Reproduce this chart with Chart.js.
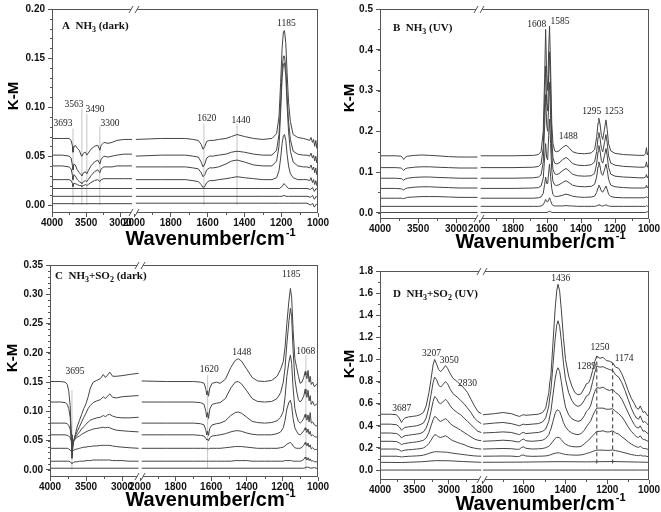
<!DOCTYPE html>
<html>
<head>
<meta charset="utf-8">
<script src="https://cdn.jsdelivr.net/npm/chart.js@4.4.1/dist/chart.umd.min.js"></script>
<style>
  html, body { margin: 0; padding: 0; background: #fff; }
  #wrap { position: relative; width: 661px; height: 512px; overflow: hidden; }
  canvas { position: absolute; }
</style>
</head>
<body>
<div id="wrap">
  <canvas id="cA" width="330" height="250" style="left:0;top:0"></canvas>
  <canvas id="cB" width="331" height="250" style="left:330px;top:0"></canvas>
  <canvas id="cC" width="330" height="262" style="left:0;top:250px"></canvas>
  <canvas id="cD" width="331" height="262" style="left:330px;top:250px"></canvas>
</div>
<script>
// ---------- A: NH3 (dark) ----------
const aLeftX = [4000, 3850, 3750, 3720, 3700, 3693, 3680, 3660, 3630, 3600, 3575, 3563, 3540, 3510, 3490, 3470, 3430, 3380, 3330, 3300, 3280, 3240, 3180, 3120, 3050, 2950, 2830];
const aLeft1 = [0.068, 0.068, 0.068, 0.066, 0.060, 0.054, 0.059, 0.061, 0.058, 0.056, 0.051, 0.050, 0.053, 0.054, 0.051, 0.053, 0.057, 0.060, 0.061, 0.056, 0.061, 0.064, 0.063, 0.064, 0.066, 0.067, 0.067];
const aLeft2 = [0.051, 0.051, 0.050, 0.048, 0.040, 0.036, 0.042, 0.041, 0.036, 0.033, 0.031, 0.030, 0.033, 0.034, 0.032, 0.035, 0.040, 0.044, 0.046, 0.042, 0.047, 0.050, 0.049, 0.050, 0.051, 0.052, 0.052];
const aLeft3 = [0.040, 0.040, 0.039, 0.037, 0.030, 0.026, 0.031, 0.030, 0.026, 0.024, 0.023, 0.022, 0.024, 0.025, 0.024, 0.026, 0.030, 0.034, 0.036, 0.033, 0.037, 0.039, 0.039, 0.039, 0.040, 0.040, 0.040];
const aLeft4 = [0.026, 0.026, 0.026, 0.025, 0.022, 0.019, 0.022, 0.022, 0.021, 0.020, 0.020, 0.019, 0.020, 0.021, 0.020, 0.021, 0.023, 0.025, 0.026, 0.024, 0.026, 0.027, 0.027, 0.027, 0.027, 0.027, 0.027];
const aFlatLeftX = [4000, 2830];
const aLeft5 = [0.017, 0.017];
const aLeft6 = [0.009, 0.009];
const aLeft7 = [0.0015, 0.0015];

const aRightX = [1990, 1850, 1720, 1680, 1650, 1635, 1625, 1615, 1605, 1590, 1570, 1540, 1500, 1470, 1440, 1400, 1350, 1300, 1250, 1225, 1212, 1203, 1195, 1188, 1182, 1175, 1168, 1160, 1150, 1135, 1110, 1080, 1060, 1045, 1038, 1030, 1024, 1018, 1012, 1006, 1000];
const aRight1 = [0.067, 0.068, 0.068, 0.067, 0.066, 0.062, 0.057, 0.060, 0.065, 0.066, 0.066, 0.067, 0.068, 0.070, 0.072, 0.070, 0.068, 0.067, 0.068, 0.073, 0.090, 0.125, 0.160, 0.177, 0.178, 0.165, 0.135, 0.105, 0.085, 0.072, 0.069, 0.068, 0.067, 0.066, 0.069, 0.064, 0.067, 0.060, 0.066, 0.058, 0.065];
const aRight2 = [0.050, 0.051, 0.051, 0.050, 0.049, 0.044, 0.039, 0.042, 0.048, 0.050, 0.050, 0.051, 0.052, 0.054, 0.055, 0.054, 0.052, 0.051, 0.051, 0.056, 0.072, 0.105, 0.138, 0.152, 0.152, 0.140, 0.112, 0.085, 0.067, 0.055, 0.052, 0.051, 0.051, 0.050, 0.053, 0.048, 0.051, 0.045, 0.050, 0.043, 0.049];
const aRight3 = [0.039, 0.039, 0.039, 0.038, 0.037, 0.033, 0.029, 0.031, 0.036, 0.038, 0.038, 0.039, 0.042, 0.045, 0.046, 0.044, 0.041, 0.040, 0.040, 0.045, 0.060, 0.095, 0.130, 0.144, 0.145, 0.132, 0.102, 0.075, 0.055, 0.044, 0.040, 0.039, 0.039, 0.038, 0.041, 0.036, 0.039, 0.033, 0.038, 0.031, 0.037];
const aRight4 = [0.026, 0.026, 0.026, 0.025, 0.024, 0.021, 0.018, 0.019, 0.023, 0.025, 0.025, 0.026, 0.027, 0.028, 0.029, 0.028, 0.027, 0.026, 0.026, 0.028, 0.035, 0.048, 0.063, 0.071, 0.072, 0.066, 0.052, 0.040, 0.032, 0.028, 0.026, 0.026, 0.026, 0.025, 0.028, 0.023, 0.026, 0.021, 0.025, 0.020, 0.024];
const aSmallRightX = [1990, 1300, 1210, 1195, 1185, 1175, 1160, 1060, 1040, 1030, 1020, 1010, 1000];
const aRight5 = [0.017, 0.017, 0.017, 0.019, 0.022, 0.020, 0.017, 0.017, 0.016, 0.018, 0.014, 0.017, 0.015];
const aRight6 = [0.009, 0.009, 0.009, 0.009, 0.010, 0.009, 0.009, 0.009, 0.008, 0.010, 0.006, 0.009, 0.007];
const aRight7 = [0.002, 0.002, 0.002, 0.002, 0.002, 0.002, 0.002, 0.002, 0.000, 0.002, -0.002, 0.001, 0.000];

const aYTicks = [0, 0.05, 0.10, 0.15, 0.20];
const aXLTicks = [4000, 3500, 3000];
const aXRTicks = [2000, 1800, 1600, 1400, 1200, 1000];
const aMarks = [['l', 3693, 0, 0.078], ['l', 3563, 0, 0.098], ['l', 3490, 0, 0.093], ['l', 3300, 0, 0.081], ['r', 1620, 0, 0.083], ['r', 1440, 0, 0.083]];
const aLabels = [['3693', 'l', 3839, 0.083], ['3563', 'l', 3678, 0.103], ['3490', 'l', 3370, 0.098], ['3300', 'l', 3151, 0.083], ['1620', 'r', 1605, 0.088], ['1440', 'r', 1418, 0.086], ['1185', 'r', 1172, 0.185]];

// ---------- B: NH3 (UV) ----------
const bLeftX = [4000, 3800, 3720, 3700, 3690, 3670, 3640, 3550, 3450, 3350, 3250, 3100, 2950, 2720];
const bLeft1 = [0.140, 0.140, 0.139, 0.134, 0.131, 0.136, 0.139, 0.141, 0.142, 0.141, 0.140, 0.138, 0.137, 0.137];
const bLeft2 = [0.111, 0.111, 0.110, 0.106, 0.104, 0.108, 0.110, 0.112, 0.113, 0.113, 0.112, 0.111, 0.110, 0.110];
const bLeft3 = [0.085, 0.085, 0.084, 0.081, 0.080, 0.083, 0.085, 0.087, 0.088, 0.088, 0.087, 0.086, 0.085, 0.085];
const bLeft4 = [0.060, 0.060, 0.059, 0.057, 0.056, 0.059, 0.061, 0.063, 0.064, 0.064, 0.063, 0.062, 0.061, 0.061];
const bLeft5 = [0.036, 0.036, 0.036, 0.035, 0.035, 0.036, 0.038, 0.039, 0.040, 0.040, 0.040, 0.039, 0.038, 0.038];
const bFlatLeftX = [4000, 2720];
const bLeft6 = [0.016, 0.016];
const bLeft7 = [0.001, 0.001];

const bRightX = [1990, 1800, 1680, 1650, 1635, 1622, 1614, 1608, 1602, 1596, 1590, 1585, 1579, 1572, 1565, 1555, 1545, 1530, 1510, 1488, 1470, 1450, 1420, 1380, 1340, 1320, 1308, 1300, 1295, 1288, 1280, 1272, 1262, 1253, 1246, 1238, 1225, 1200, 1150, 1100, 1060, 1030, 1020, 1015, 1010, 1005, 1000];
const bRight1 = [0.140, 0.140, 0.141, 0.143, 0.150, 0.200, 0.330, 0.450, 0.340, 0.300, 0.400, 0.458, 0.360, 0.220, 0.170, 0.152, 0.150, 0.152, 0.160, 0.166, 0.160, 0.150, 0.146, 0.145, 0.147, 0.155, 0.185, 0.220, 0.232, 0.218, 0.190, 0.180, 0.205, 0.228, 0.205, 0.170, 0.152, 0.146, 0.143, 0.142, 0.141, 0.141, 0.145, 0.160, 0.142, 0.148, 0.140];
const bRight2 = [0.111, 0.111, 0.112, 0.114, 0.120, 0.160, 0.270, 0.360, 0.270, 0.250, 0.340, 0.395, 0.300, 0.180, 0.135, 0.122, 0.120, 0.122, 0.130, 0.136, 0.130, 0.121, 0.117, 0.116, 0.118, 0.125, 0.150, 0.185, 0.197, 0.183, 0.158, 0.150, 0.172, 0.192, 0.172, 0.140, 0.122, 0.117, 0.114, 0.113, 0.112, 0.112, 0.114, 0.125, 0.112, 0.116, 0.111];
const bRight3 = [0.085, 0.085, 0.086, 0.088, 0.093, 0.125, 0.215, 0.290, 0.215, 0.200, 0.270, 0.320, 0.240, 0.145, 0.107, 0.096, 0.094, 0.096, 0.103, 0.109, 0.103, 0.095, 0.091, 0.090, 0.091, 0.097, 0.120, 0.150, 0.165, 0.152, 0.128, 0.122, 0.140, 0.158, 0.140, 0.112, 0.095, 0.090, 0.088, 0.087, 0.086, 0.086, 0.088, 0.094, 0.086, 0.090, 0.085];
const bRight4 = [0.060, 0.060, 0.061, 0.062, 0.066, 0.085, 0.135, 0.170, 0.135, 0.130, 0.190, 0.230, 0.170, 0.105, 0.077, 0.069, 0.067, 0.069, 0.074, 0.079, 0.074, 0.068, 0.065, 0.064, 0.065, 0.070, 0.088, 0.113, 0.125, 0.115, 0.096, 0.092, 0.105, 0.120, 0.106, 0.083, 0.068, 0.064, 0.062, 0.061, 0.061, 0.061, 0.062, 0.068, 0.061, 0.064, 0.060];
const bRight5 = [0.036, 0.036, 0.036, 0.037, 0.039, 0.048, 0.070, 0.088, 0.072, 0.072, 0.100, 0.120, 0.090, 0.060, 0.045, 0.041, 0.040, 0.041, 0.043, 0.046, 0.044, 0.041, 0.039, 0.038, 0.039, 0.041, 0.050, 0.062, 0.068, 0.063, 0.053, 0.051, 0.058, 0.066, 0.058, 0.046, 0.040, 0.038, 0.037, 0.037, 0.037, 0.037, 0.038, 0.040, 0.037, 0.039, 0.036];
const bRight6 = [0.016, 0.016, 0.016, 0.016, 0.017, 0.020, 0.027, 0.033, 0.028, 0.027, 0.032, 0.037, 0.030, 0.022, 0.018, 0.017, 0.017, 0.017, 0.017, 0.018, 0.017, 0.017, 0.016, 0.016, 0.016, 0.016, 0.017, 0.019, 0.020, 0.019, 0.017, 0.017, 0.018, 0.020, 0.018, 0.017, 0.016, 0.016, 0.016, 0.016, 0.016, 0.016, 0.016, 0.018, 0.016, 0.017, 0.016];
const bSmallRightX = [1990, 1600, 1585, 1570, 1020, 1010, 1000];
const bRight7 = [0.001, 0.001, 0.004, 0.001, 0.001, 0.003, 0.001];

const bYTicks = [0, 0.1, 0.2, 0.3, 0.4, 0.5];
const bXLTicks = [4000, 3500, 3000];
const bXRTicks = [2000, 1800, 1600, 1400, 1200, 1000];
const bLabels = [['1608', 'r', 1661, 0.461], ['1585', 'r', 1524, 0.469], ['1488', 'r', 1475, 0.187], ['1295', 'r', 1337, 0.248], ['1253', 'r', 1206, 0.248]];

// ---------- C: NH3+SO2 (dark) ----------
const cLeftX = [4000, 3850, 3790, 3760, 3740, 3720, 3705, 3695, 3685, 3670, 3650, 3620, 3590, 3560, 3530, 3500, 3470, 3440, 3400, 3350, 3300, 3260, 3230, 3200, 3170, 3130, 3080, 3000, 2900, 2770];
const cLeft1 = [0.151, 0.151, 0.150, 0.146, 0.135, 0.110, 0.060, 0.020, 0.035, 0.050, 0.060, 0.075, 0.085, 0.095, 0.105, 0.113, 0.125, 0.140, 0.150, 0.153, 0.156, 0.163, 0.158, 0.162, 0.167, 0.160, 0.160, 0.161, 0.163, 0.165];
const cLeft2 = [0.116, 0.116, 0.115, 0.112, 0.105, 0.090, 0.060, 0.030, 0.040, 0.050, 0.058, 0.066, 0.074, 0.082, 0.090, 0.097, 0.105, 0.110, 0.115, 0.118, 0.120, 0.125, 0.122, 0.126, 0.130, 0.124, 0.123, 0.125, 0.126, 0.127];
const cLeft3 = [0.080, 0.080, 0.080, 0.079, 0.076, 0.070, 0.055, 0.040, 0.045, 0.050, 0.055, 0.060, 0.065, 0.070, 0.074, 0.078, 0.082, 0.085, 0.087, 0.089, 0.090, 0.093, 0.091, 0.094, 0.095, 0.092, 0.090, 0.089, 0.089, 0.090];
const cLeft4 = [0.060, 0.060, 0.060, 0.059, 0.058, 0.055, 0.050, 0.045, 0.047, 0.050, 0.053, 0.056, 0.058, 0.061, 0.063, 0.065, 0.067, 0.068, 0.070, 0.071, 0.072, 0.073, 0.072, 0.073, 0.072, 0.070, 0.068, 0.067, 0.066, 0.065];
const cLeft5 = [0.037, 0.037, 0.037, 0.037, 0.036, 0.034, 0.032, 0.030, 0.032, 0.034, 0.035, 0.036, 0.037, 0.038, 0.039, 0.039, 0.040, 0.040, 0.041, 0.041, 0.042, 0.042, 0.042, 0.042, 0.042, 0.041, 0.040, 0.039, 0.038, 0.037];
const cLeft6 = [0.015, 0.015, 0.015, 0.015, 0.015, 0.014, 0.012, 0.011, 0.012, 0.013, 0.014, 0.014, 0.015, 0.015, 0.015, 0.016, 0.016, 0.016, 0.017, 0.017, 0.017, 0.017, 0.017, 0.017, 0.017, 0.016, 0.016, 0.016, 0.015, 0.015];
const cFlatLeftX = [4000, 2770];
const cLeft7 = [0.003, 0.003];

const cRightX = [1990, 1850, 1700, 1660, 1640, 1630, 1625, 1620, 1615, 1608, 1595, 1570, 1550, 1520, 1490, 1465, 1448, 1430, 1400, 1370, 1340, 1300, 1260, 1230, 1210, 1195, 1185, 1175, 1163, 1155, 1148, 1140, 1130, 1120, 1110, 1100, 1090, 1080, 1072, 1068, 1062, 1056, 1050, 1044, 1038, 1030, 1020, 1010, 1000];
const cRight1 = [0.152, 0.151, 0.151, 0.150, 0.148, 0.138, 0.128, 0.135, 0.126, 0.140, 0.148, 0.150, 0.148, 0.155, 0.175, 0.187, 0.190, 0.186, 0.172, 0.158, 0.152, 0.151, 0.153, 0.160, 0.172, 0.185, 0.210, 0.250, 0.290, 0.310, 0.295, 0.240, 0.190, 0.175, 0.160, 0.148, 0.150, 0.158, 0.168, 0.162, 0.156, 0.170, 0.150, 0.160, 0.146, 0.150, 0.142, 0.146, 0.148];
const cRight2 = [0.116, 0.116, 0.116, 0.115, 0.112, 0.100, 0.090, 0.098, 0.088, 0.104, 0.112, 0.114, 0.115, 0.122, 0.140, 0.150, 0.151, 0.147, 0.135, 0.122, 0.117, 0.116, 0.117, 0.122, 0.132, 0.150, 0.175, 0.215, 0.255, 0.276, 0.262, 0.205, 0.155, 0.135, 0.120, 0.116, 0.120, 0.126, 0.138, 0.130, 0.124, 0.136, 0.118, 0.127, 0.112, 0.117, 0.110, 0.112, 0.114];
const cRight3 = [0.080, 0.080, 0.080, 0.079, 0.077, 0.068, 0.060, 0.066, 0.059, 0.071, 0.077, 0.079, 0.080, 0.084, 0.093, 0.098, 0.099, 0.097, 0.090, 0.083, 0.081, 0.080, 0.081, 0.084, 0.090, 0.100, 0.125, 0.160, 0.185, 0.196, 0.182, 0.140, 0.105, 0.092, 0.083, 0.080, 0.083, 0.088, 0.095, 0.090, 0.085, 0.094, 0.082, 0.098, 0.080, 0.082, 0.077, 0.075, 0.078];
const cRight4 = [0.060, 0.060, 0.060, 0.059, 0.058, 0.054, 0.051, 0.053, 0.050, 0.055, 0.058, 0.059, 0.060, 0.062, 0.065, 0.067, 0.067, 0.066, 0.063, 0.061, 0.060, 0.060, 0.060, 0.062, 0.065, 0.072, 0.085, 0.104, 0.116, 0.119, 0.110, 0.088, 0.072, 0.066, 0.061, 0.060, 0.063, 0.067, 0.072, 0.068, 0.064, 0.070, 0.061, 0.066, 0.058, 0.060, 0.057, 0.056, 0.058];
const cRight5 = [0.037, 0.037, 0.037, 0.037, 0.037, 0.037, 0.036, 0.037, 0.036, 0.037, 0.037, 0.037, 0.037, 0.038, 0.039, 0.040, 0.040, 0.040, 0.039, 0.038, 0.037, 0.037, 0.037, 0.037, 0.038, 0.039, 0.041, 0.044, 0.046, 0.047, 0.045, 0.041, 0.038, 0.037, 0.037, 0.037, 0.039, 0.042, 0.047, 0.044, 0.041, 0.046, 0.039, 0.043, 0.036, 0.038, 0.035, 0.035, 0.036];
const cRight6 = [0.015, 0.015, 0.015, 0.015, 0.015, 0.015, 0.015, 0.015, 0.015, 0.015, 0.015, 0.015, 0.015, 0.015, 0.015, 0.016, 0.016, 0.016, 0.016, 0.015, 0.015, 0.015, 0.015, 0.015, 0.015, 0.015, 0.016, 0.016, 0.016, 0.016, 0.016, 0.015, 0.015, 0.015, 0.015, 0.015, 0.016, 0.018, 0.022, 0.019, 0.017, 0.021, 0.016, 0.019, 0.015, 0.016, 0.014, 0.014, 0.014];
const cSmallRightX = [1990, 1080, 1060, 1040, 1020, 1000];
const cRight7 = [0.003, 0.003, 0.005, 0.003, 0.004, 0.002];

const cYTicks = [0, 0.05, 0.10, 0.15, 0.20, 0.25, 0.30, 0.35];
const cXLTicks = [4000, 3500, 3000];
const cXRTicks = [2000, 1800, 1600, 1400, 1200, 1000];
const cMarks = [['l', 3695, 0, 0.136], ['r', 1620, 0.003, 0.162], ['r', 1068, 0, 0.196]];
const cLabels = [['3695', 'l', 3653, 0.168], ['1620', 'r', 1611, 0.171], ['1448', 'r', 1429, 0.200], ['1185', 'r', 1150, 0.333], ['1068', 'r', 1069, 0.203]];

// ---------- D: NH3+SO2 (UV) ----------
const dLeftX = [4000, 3850, 3760, 3720, 3687, 3670, 3640, 3590, 3530, 3470, 3420, 3370, 3330, 3290, 3260, 3230, 3207, 3180, 3150, 3120, 3090, 3050, 3020, 2980, 2940, 2880, 2830, 2780, 2730, 2680, 2630, 2580, 2530];
const dLeft1 = [0.505, 0.505, 0.50, 0.47, 0.43, 0.45, 0.47, 0.48, 0.485, 0.49, 0.50, 0.52, 0.58, 0.70, 0.82, 0.95, 1.0, 0.96, 0.91, 0.89, 0.91, 0.945, 0.92, 0.87, 0.83, 0.80, 0.77, 0.74, 0.70, 0.64, 0.58, 0.53, 0.51];
const dLeft2 = [0.415, 0.415, 0.41, 0.39, 0.36, 0.37, 0.385, 0.39, 0.395, 0.40, 0.41, 0.425, 0.47, 0.57, 0.68, 0.79, 0.84, 0.82, 0.77, 0.75, 0.77, 0.80, 0.78, 0.73, 0.69, 0.66, 0.63, 0.60, 0.56, 0.52, 0.47, 0.44, 0.42];
const dLeft3 = [0.335, 0.335, 0.33, 0.315, 0.29, 0.30, 0.31, 0.315, 0.32, 0.325, 0.33, 0.345, 0.38, 0.45, 0.53, 0.62, 0.665, 0.65, 0.61, 0.60, 0.615, 0.64, 0.62, 0.58, 0.55, 0.52, 0.50, 0.47, 0.44, 0.41, 0.38, 0.35, 0.34];
const dLeft4 = [0.26, 0.26, 0.258, 0.245, 0.23, 0.235, 0.24, 0.245, 0.25, 0.255, 0.26, 0.27, 0.29, 0.34, 0.40, 0.455, 0.485, 0.475, 0.45, 0.44, 0.45, 0.465, 0.45, 0.42, 0.40, 0.38, 0.36, 0.34, 0.32, 0.30, 0.28, 0.27, 0.265];
const dLeft5 = [0.19, 0.19, 0.19, 0.182, 0.17, 0.175, 0.18, 0.183, 0.186, 0.19, 0.193, 0.20, 0.215, 0.24, 0.27, 0.30, 0.32, 0.315, 0.30, 0.295, 0.30, 0.31, 0.30, 0.28, 0.265, 0.25, 0.24, 0.23, 0.215, 0.205, 0.198, 0.193, 0.19];
const dLeft6 = [0.125, 0.125, 0.125, 0.122, 0.118, 0.12, 0.122, 0.124, 0.126, 0.128, 0.13, 0.135, 0.142, 0.150, 0.157, 0.162, 0.165, 0.166, 0.165, 0.164, 0.163, 0.162, 0.16, 0.156, 0.152, 0.147, 0.143, 0.139, 0.135, 0.131, 0.128, 0.126, 0.125];
const dSmallLeftX = [4000, 3687, 3400, 3200, 3000, 2800, 2530];
const dLeft7 = [0.07, 0.068, 0.075, 0.085, 0.084, 0.077, 0.07];
const dLeft8 = [0, 0, 0, 0, 0, 0, 0];

const dRightX = [1795, 1740, 1700, 1660, 1630, 1620, 1610, 1600, 1590, 1560, 1530, 1510, 1495, 1480, 1475, 1470, 1460, 1450, 1442, 1436, 1428, 1420, 1410, 1400, 1385, 1370, 1355, 1340, 1325, 1310, 1300, 1289, 1280, 1270, 1260, 1250, 1235, 1220, 1205, 1190, 1174, 1160, 1145, 1130, 1115, 1100, 1085, 1070, 1060, 1050, 1042, 1035, 1028, 1020, 1010, 1000];
const dRight1 = [0.50, 0.51, 0.52, 0.51, 0.49, 0.485, 0.495, 0.50, 0.495, 0.50, 0.505, 0.52, 0.56, 0.70, 0.80, 0.85, 1.15, 1.45, 1.62, 1.68, 1.62, 1.45, 1.20, 1.00, 0.85, 0.76, 0.70, 0.68, 0.69, 0.74, 0.78, 0.79, 0.83, 0.90, 0.98, 1.03, 1.01, 1.02, 0.99, 0.985, 0.97, 0.93, 0.92, 0.87, 0.80, 0.72, 0.65, 0.60, 0.56, 0.55, 0.58, 0.55, 0.52, 0.53, 0.50, 0.48];
const dRight2 = [0.415, 0.425, 0.43, 0.42, 0.405, 0.40, 0.41, 0.415, 0.41, 0.415, 0.42, 0.435, 0.47, 0.58, 0.66, 0.72, 0.95, 1.18, 1.31, 1.35, 1.30, 1.17, 0.97, 0.82, 0.70, 0.63, 0.59, 0.575, 0.59, 0.63, 0.67, 0.68, 0.72, 0.80, 0.88, 0.94, 0.93, 0.935, 0.92, 0.91, 0.90, 0.86, 0.84, 0.79, 0.72, 0.64, 0.56, 0.50, 0.47, 0.46, 0.49, 0.46, 0.43, 0.44, 0.42, 0.40];
const dRight3 = [0.335, 0.34, 0.345, 0.34, 0.325, 0.32, 0.335, 0.34, 0.33, 0.335, 0.34, 0.35, 0.37, 0.44, 0.49, 0.53, 0.68, 0.82, 0.90, 0.925, 0.89, 0.80, 0.67, 0.57, 0.50, 0.465, 0.45, 0.44, 0.45, 0.49, 0.53, 0.55, 0.58, 0.65, 0.71, 0.745, 0.74, 0.75, 0.73, 0.72, 0.73, 0.70, 0.68, 0.64, 0.58, 0.52, 0.46, 0.41, 0.385, 0.38, 0.40, 0.375, 0.35, 0.355, 0.335, 0.325];
const dRight4 = [0.26, 0.265, 0.27, 0.265, 0.255, 0.255, 0.275, 0.28, 0.265, 0.26, 0.265, 0.27, 0.285, 0.32, 0.35, 0.37, 0.44, 0.51, 0.54, 0.545, 0.53, 0.49, 0.43, 0.39, 0.355, 0.335, 0.325, 0.32, 0.33, 0.36, 0.39, 0.42, 0.44, 0.49, 0.53, 0.56, 0.56, 0.56, 0.55, 0.55, 0.555, 0.53, 0.51, 0.48, 0.44, 0.39, 0.35, 0.32, 0.30, 0.295, 0.31, 0.29, 0.275, 0.275, 0.265, 0.255];
const dRight5 = [0.19, 0.193, 0.195, 0.193, 0.187, 0.19, 0.205, 0.21, 0.197, 0.19, 0.192, 0.195, 0.202, 0.215, 0.225, 0.235, 0.26, 0.285, 0.295, 0.297, 0.29, 0.275, 0.25, 0.235, 0.22, 0.213, 0.21, 0.21, 0.215, 0.235, 0.255, 0.27, 0.29, 0.31, 0.33, 0.35, 0.35, 0.355, 0.345, 0.345, 0.355, 0.335, 0.325, 0.30, 0.28, 0.255, 0.235, 0.22, 0.21, 0.205, 0.215, 0.205, 0.195, 0.195, 0.19, 0.185];
const dRight6 = [0.125, 0.126, 0.127, 0.126, 0.122, 0.124, 0.135, 0.135, 0.127, 0.124, 0.125, 0.126, 0.128, 0.132, 0.136, 0.139, 0.146, 0.152, 0.155, 0.156, 0.154, 0.15, 0.145, 0.141, 0.138, 0.136, 0.135, 0.135, 0.137, 0.143, 0.15, 0.155, 0.16, 0.168, 0.175, 0.18, 0.18, 0.18, 0.178, 0.178, 0.182, 0.175, 0.17, 0.163, 0.155, 0.148, 0.14, 0.135, 0.132, 0.13, 0.135, 0.13, 0.126, 0.128, 0.124, 0.12];
const dSmallRightX = [1795, 1600, 1436, 1300, 1174, 1050, 1000];
const dRight7 = [0.07, 0.072, 0.076, 0.074, 0.077, 0.072, 0.07];
const dRight8 = [0, 0, 0, 0, 0, 0, 0];

const dYTicks = [0, 0.2, 0.4, 0.6, 0.8, 1.0, 1.2, 1.4, 1.6, 1.8];
const dXLTicks = [4000, 3500, 3000];
const dXRTicks = [1800, 1600, 1400, 1200, 1000];
const dMarks = [['r', 1250, 0.06, 1.03], ['r', 1174, 0.06, 0.97]];
const dLabels = [['3687', 'l', 3686, 0.558], ['3207', 'l', 3251, 1.055], ['3050', 'l', 2996, 0.995], ['2830', 'l', 2729, 0.784], ['1436', 'r', 1423, 1.733], ['1289', 'r', 1300, 0.934], ['1250', 'r', 1235, 1.106], ['1174', 'r', 1119, 1.010]];

// ---------- drawing ----------
const SANS = '"Liberation Sans", Arial, sans-serif';
const SERIF = '"Liberation Serif", "Times New Roman", serif';

function pts(xs, ys) {
  return xs.map((x, i) => ({ x: x, y: ys[i] }));
}

function decor(p) {
  return {
    id: 'decor',
    afterDraw(chart) {
      const { ctx, chartArea: a, scales } = chart;
      const sc = { l: scales.xl, r: scales.xr };
      const ys = scales.y;
      const L = Math.round(a.left) + 0.5, R = Math.round(a.right) - 0.5;
      const T = Math.round(a.top) + 0.5, B = Math.round(a.bottom) - 0.5;
      ctx.save();
      ctx.strokeStyle = '#555';
      ctx.lineWidth = 1;
      ctx.strokeRect(L, T, R - L, B - T);

      // minor ticks
      ctx.beginPath();
      p.xlMinor.forEach(v => { const x = Math.round(sc.l.getPixelForValue(v)) + 0.5; ctx.moveTo(x, B); ctx.lineTo(x, B + 2.5); });
      p.xrMinor.forEach(v => { const x = Math.round(sc.r.getPixelForValue(v)) + 0.5; ctx.moveTo(x, B); ctx.lineTo(x, B + 2.5); });
      const n = Math.round((p.yTicks[p.yTicks.length - 1] - p.yTicks[0]) / p.yMinor);
      for (let i = 0; i <= n; i++) {
        const yv = Math.round(ys.getPixelForValue(p.yTicks[0] + i * p.yMinor)) + 0.5;
        ctx.moveTo(L, yv); ctx.lineTo(L - 2.5, yv);
      }
      ctx.stroke();

      // axis break marks
      const bx = Math.round(sc.l.right);
      [T, B].forEach(yy => {
        ctx.fillStyle = '#fff';
        ctx.fillRect(bx - 3, yy - 1.5, 6, 3);
        ctx.beginPath();
        ctx.moveTo(bx - 5, yy + 3.5); ctx.lineTo(bx - 1, yy - 3.5);
        ctx.moveTo(bx + 1, yy + 3.5); ctx.lineTo(bx + 5, yy - 3.5);
        ctx.stroke();
      });

      // peak labels
      ctx.fillStyle = '#222';
      ctx.font = '9.5px ' + SERIF;
      ctx.textAlign = 'center';
      ctx.textBaseline = 'middle';
      p.labels.forEach(l => {
        ctx.fillText(l[0], sc[l[1]].getPixelForValue(l[2]), ys.getPixelForValue(l[3]));
      });

      // panel title with subscripts
      ctx.fillStyle = '#111';
      ctx.textAlign = 'left';
      ctx.textBaseline = 'alphabetic';
      let tx = p.title.x;
      p.title.segs.forEach(s => {
        ctx.font = 'bold ' + (s[1] ? 8 : 11) + 'px ' + SERIF;
        ctx.fillText(s[0], tx, p.title.y + (s[1] ? 3 : 0));
        tx += ctx.measureText(s[0]).width;
      });

      // axis titles
      ctx.fillStyle = '#000';
      ctx.font = 'bold 20px ' + SANS;
      const main = 'Wavenumber/cm';
      const w1 = ctx.measureText(main).width;
      ctx.font = 'bold 11px ' + SANS;
      const w2 = ctx.measureText('-1').width;
      const x0 = p.xTitle[0] - (w1 + w2) / 2;
      ctx.font = 'bold 20px ' + SANS;
      ctx.fillText(main, x0, p.xTitle[1] + 8);
      ctx.font = 'bold 11px ' + SANS;
      ctx.fillText('-1', x0 + w1 + 1, p.xTitle[1] - 1);

      ctx.save();
      ctx.translate(p.yTitle[0], p.yTitle[1]);
      ctx.rotate(-Math.PI / 2);
      ctx.font = 'bold 15px ' + SANS;
      ctx.textAlign = 'center';
      ctx.textBaseline = 'middle';
      ctx.fillText('K-M', 0, 0);
      ctx.restore();
      ctx.restore();
    }
  };
}

function tickFont() {
  return { family: SANS, size: 10, weight: 'bold' };
}

function buildPanel(id, p) {
  const cv = document.getElementById(id);
  const W = cv.width, H = cv.height;
  const datasets = [];
  p.spectra.forEach(s => {
    datasets.push({
      data: pts(s[1], s[2]), xAxisID: s[0] === 'l' ? 'xl' : 'xr',
      borderColor: '#444', borderWidth: 1, pointRadius: 0, tension: 0, fill: false
    });
  });
  p.marks.forEach(m => {
    datasets.push({
      data: [{ x: m[1], y: m[2] }, { x: m[1], y: m[3] }], xAxisID: m[0] === 'l' ? 'xl' : 'xr',
      borderColor: p.markColor, borderDash: p.markDash, borderWidth: 1, pointRadius: 0, fill: false
    });
  });
  const xAxis = (range, ticks, weight) => ({
    type: 'linear', position: 'bottom', stack: 'x', stackWeight: weight, reverse: true,
    min: range[0], max: range[1],
    afterBuildTicks: ax => { ax.ticks = ticks.map(v => ({ value: v })); },
    afterFit: ax => { ax.height = H - p.area.bottom; },
    ticks: { font: tickFont(), color: '#111', padding: 0, autoSkip: false, maxRotation: 0, callback: v => String(v) },
    grid: { drawOnChartArea: false, drawTicks: true, tickLength: 4, color: '#555' },
    border: { display: false }
  });
  new Chart(cv, {
    type: 'line',
    data: { datasets },
    options: {
      responsive: false, animation: false, events: [],
      layout: { padding: { left: 0, top: p.area.top, right: W - p.area.right, bottom: 0 } },
      plugins: { legend: { display: false }, tooltip: { enabled: false } },
      scales: {
        xl: xAxis(p.xl, p.xlTicks, p.weights[0]),
        xr: xAxis(p.xr, p.xrTicks, p.weights[1]),
        y: {
          type: 'linear', position: 'left', min: p.y[0], max: p.y[1],
          afterBuildTicks: ax => { ax.ticks = p.yTicks.map(v => ({ value: v })); },
          afterFit: ax => { ax.width = p.area.left; },
          ticks: { font: tickFont(), color: '#111', padding: 3, callback: v => v.toFixed(p.yDec) },
          grid: { drawOnChartArea: false, drawTicks: true, tickLength: 4, color: '#555' },
          border: { display: false }
        }
      }
    },
    plugins: [decor(p)]
  });
}

buildPanel('cA', {
  area: { left: 52, top: 5, right: 318, bottom: 213 },
  xl: [2800, 4000], xr: [1000, 2000], weights: [82, 184], y: [-0.008, 0.2], yDec: 2,
  yTicks: aYTicks, yMinor: 0.01, xlTicks: aXLTicks, xrTicks: aXRTicks,
  xlMinor: [3750, 3250], xrMinor: [1900, 1700, 1500, 1300, 1100],
  spectra: [
    ['l', aLeftX, aLeft1], ['l', aLeftX, aLeft2], ['l', aLeftX, aLeft3], ['l', aLeftX, aLeft4],
    ['l', aFlatLeftX, aLeft5], ['l', aFlatLeftX, aLeft6], ['l', aFlatLeftX, aLeft7],
    ['r', aRightX, aRight1], ['r', aRightX, aRight2], ['r', aRightX, aRight3], ['r', aRightX, aRight4],
    ['r', aSmallRightX, aRight5], ['r', aSmallRightX, aRight6], ['r', aSmallRightX, aRight7]
  ],
  marks: aMarks, markColor: '#c4c4c4', markDash: [],
  labels: aLabels,
  title: { x: 62, y: 29, segs: [['A  NH', 0], ['3', 1], [' (dark)', 0]] },
  xTitle: [210, 237], yTitle: [14, 96]
});

buildPanel('cB', {
  area: { left: 50, top: 9, right: 319, bottom: 219 },
  xl: [2700, 4000], xr: [1000, 2000], weights: [99, 170], y: [-0.015, 0.5], yDec: 1,
  yTicks: bYTicks, yMinor: 0.05, xlTicks: bXLTicks, xrTicks: bXRTicks,
  xlMinor: [3750, 3250], xrMinor: [1900, 1700, 1500, 1300, 1100],
  spectra: [
    ['l', bLeftX, bLeft1], ['l', bLeftX, bLeft2], ['l', bLeftX, bLeft3], ['l', bLeftX, bLeft4], ['l', bLeftX, bLeft5],
    ['l', bFlatLeftX, bLeft6], ['l', bFlatLeftX, bLeft7],
    ['r', bRightX, bRight1], ['r', bRightX, bRight2], ['r', bRightX, bRight3], ['r', bRightX, bRight4],
    ['r', bRightX, bRight5], ['r', bRightX, bRight6], ['r', bSmallRightX, bRight7]
  ],
  marks: [], markColor: '#c4c4c4', markDash: [],
  labels: bLabels,
  title: { x: 63, y: 31, segs: [['B  NH', 0], ['3', 1], [' (UV)', 0]] },
  xTitle: [210, 240], yTitle: [20, 98]
});

buildPanel('cC', {
  area: { left: 50, top: 15, right: 318, bottom: 227 },
  xl: [2750, 4000], xr: [1000, 2000], weights: [90, 178], y: [-0.012, 0.35], yDec: 2,
  yTicks: cYTicks, yMinor: 0.01, xlTicks: cXLTicks, xrTicks: cXRTicks,
  xlMinor: [3750, 3250], xrMinor: [1900, 1700, 1500, 1300, 1100],
  spectra: [
    ['l', cLeftX, cLeft1], ['l', cLeftX, cLeft2], ['l', cLeftX, cLeft3], ['l', cLeftX, cLeft4],
    ['l', cLeftX, cLeft5], ['l', cLeftX, cLeft6], ['l', cFlatLeftX, cLeft7],
    ['r', cRightX, cRight1], ['r', cRightX, cRight2], ['r', cRightX, cRight3], ['r', cRightX, cRight4],
    ['r', cRightX, cRight5], ['r', cRightX, cRight6], ['r', cSmallRightX, cRight7]
  ],
  marks: cMarks, markColor: '#c4c4c4', markDash: [],
  labels: cLabels,
  title: { x: 55, y: 29, segs: [['C  NH', 0], ['3', 1], ['+SO', 0], ['2', 1], [' (dark)', 0]] },
  xTitle: [210, 248], yTitle: [13, 108]
});

buildPanel('cD', {
  area: { left: 50, top: 21, right: 319, bottom: 230 },
  xl: [2520, 4000], xr: [1000, 1800], weights: [102, 167], y: [-0.09, 1.8], yDec: 1,
  yTicks: dYTicks, yMinor: 0.1, xlTicks: dXLTicks, xrTicks: dXRTicks,
  xlMinor: [3750, 3250, 2750], xrMinor: [1700, 1500, 1300, 1100],
  spectra: [
    ['l', dLeftX, dLeft1], ['l', dLeftX, dLeft2], ['l', dLeftX, dLeft3], ['l', dLeftX, dLeft4],
    ['l', dLeftX, dLeft5], ['l', dLeftX, dLeft6], ['l', dSmallLeftX, dLeft7], ['l', dSmallLeftX, dLeft8],
    ['r', dRightX, dRight1], ['r', dRightX, dRight2], ['r', dRightX, dRight3], ['r', dRightX, dRight4],
    ['r', dRightX, dRight5], ['r', dRightX, dRight6], ['r', dSmallRightX, dRight7], ['r', dSmallRightX, dRight8]
  ],
  marks: dMarks, markColor: '#333', markDash: [4, 3],
  labels: dLabels,
  title: { x: 63, y: 47, segs: [['D  NH', 0], ['3', 1], ['+SO', 0], ['2', 1], [' (UV)', 0]] },
  xTitle: [210, 252], yTitle: [20, 114]
});
</script>
</body>
</html>
